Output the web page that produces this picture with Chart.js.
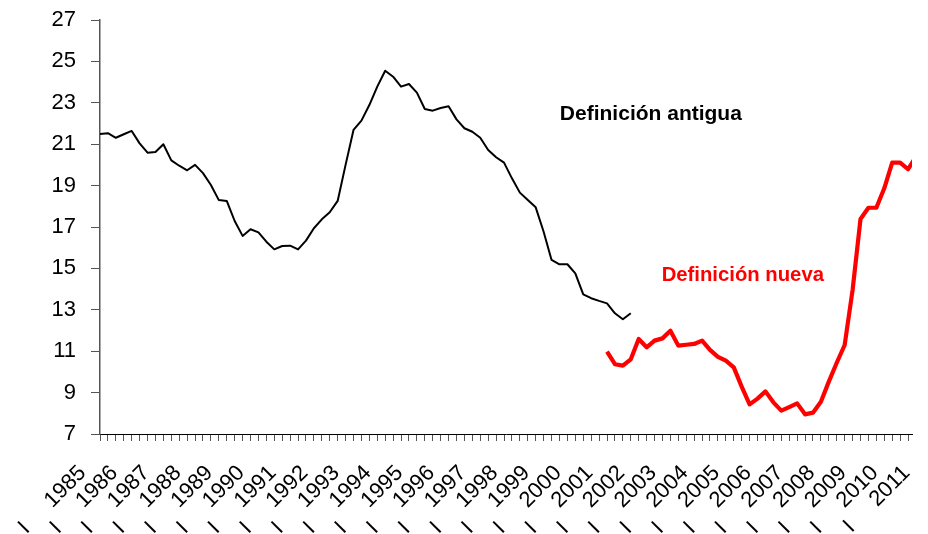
<!DOCTYPE html>
<html><head><meta charset="utf-8">
<script src="https://cdn.jsdelivr.net/npm/chart.js@4.4.1/dist/chart.umd.min.js"></script>
<style>html,body{margin:0;padding:0;background:#fff}canvas{display:block}</style>
</head><body>
<canvas id="c" width="928" height="534"></canvas>
<script>
// ---- data ----
const years = ['1985','1986','1987','1988','1989','1990','1991','1992','1993','1994','1995','1996','1997','1998','1999','2000','2001','2002','2003','2004','2005','2006','2007','2008','2009','2010','2011'];
const quarterMark = 'I';
// Definición antigua: 1985 I .. 2001 IV
const oldDefinition = [21.49,21.53,21.31,21.48,21.64,21.04,20.59,20.62,21.0,20.22,
  19.96,19.74,20.0,19.6,19.03,18.30,18.26,17.29,16.57,16.89,
  16.74,16.29,15.92,16.08,16.1,15.92,16.34,16.94,17.37,17.71,
  18.26,20.0,21.69,22.14,22.89,23.78,24.55,24.26,23.78,23.91,
  23.49,22.70,22.62,22.75,22.83,22.2,21.77,21.6,21.31,20.72,
  20.37,20.11,19.35,18.66,18.30,17.95,16.77,15.41,15.2,15.2,
  14.76,13.75,13.56,13.43,13.31,12.83,12.54,12.83];
// Definición nueva: 2001 I .. 2010 IV
const newDefinitionStart = 64;
const newDefinition = [10.98,10.37,10.30,10.61,11.59,11.19,11.51,11.62,11.99,11.27,
  11.31,11.35,11.51,11.06,10.73,10.54,10.22,9.29,8.43,8.71,
  9.06,8.53,8.13,8.30,8.48,7.95,8.03,8.56,9.53,10.44,
  11.30,13.96,17.39,17.93,17.93,18.87,20.11,20.11,19.79,20.4];
const yTicks = [7,9,11,13,15,17,19,21,23,25,27];
const noteTexts = ['Definición antigua','Definición nueva'];

// ---- build ----
const FONT = "'Liberation Sans', Arial, Helvetica, sans-serif";
const oldPoints = oldDefinition.map((v,i)=>({x:i,y:v}));
const newPoints = newDefinition.map((v,i)=>({x:i+newDefinitionStart,y:v}));
const tickCount = years.length*4 - 3; // quarters up to 2011 I
const xTickValues = Array.from({length:tickCount},(_,i)=>i);
const X_MAX = 102.5;

const notes = [
  {text:noteTexts[0], x:58.05, y:22.46, color:'#000000', size:21},
  {text:noteTexts[1], x:70.9, y:14.67, color:'#ff0000', size:20.3}
];

const notesPlugin = {
  id:'notes',
  afterDatasetsDraw(chart){
    const {ctx, scales:{x,y}} = chart;
    ctx.save();
    notes.forEach(n=>{
      ctx.font = `bold ${n.size}px ${FONT}`;
      ctx.fillStyle = n.color;
      ctx.textAlign = 'left';
      ctx.textBaseline = 'middle';
      ctx.fillText(n.text, x.getPixelForValue(n.x), y.getPixelForValue(n.y));
    });
    ctx.restore();
  }
};

new Chart(document.getElementById('c'), {
  type:'line',
  data:{
    datasets:[
      {label:noteTexts[0], data:oldPoints, borderColor:'#000000', borderWidth:2, pointRadius:0, tension:0, borderJoinStyle:'round', clip:{left:4,top:4,right:0,bottom:4}},
      {label:noteTexts[1], data:newPoints, borderColor:'#ff0000', borderWidth:4.2, pointRadius:0, tension:0, borderJoinStyle:'round', clip:{left:4,top:4,right:0,bottom:4}}
    ]
  },
  options:{
    responsive:false,
    animation:false,
    devicePixelRatio:1,
    layout:{padding:{top:20,right:16,bottom:0,left:0}},
    plugins:{legend:{display:false}, tooltip:{enabled:false}},
    scales:{
      x:{
        type:'linear',
        min:0, max:X_MAX,
        afterBuildTicks(scale){ scale.ticks = xTickValues.map(v=>({value:v})); },
        afterFit(scale){ scale.height = 100; scale.paddingLeft = 0; scale.paddingRight = 0; },
        grid:{display:true, drawOnChartArea:false, drawTicks:true, tickLength:7, tickWidth:1,
          tickColor:(c)=> (c.tick && c.tick.value > X_MAX) ? 'rgba(0,0,0,0)' : '#555555'},
        border:{display:true, color:'#000000', width:1},
        ticks:{
          autoSkip:false, minRotation:45, maxRotation:45, padding:2,
          color:'#000000', font:{family:FONT, size:22},
          callback(value){
            if (value % 4 !== 0) return '';
            const y = years[value/4];
            return y ? quarterMark + '     ' + y + '    ' : '';
          }
        }
      },
      y:{
        type:'linear',
        min:7, max:27,
        afterBuildTicks(scale){ scale.ticks = yTicks.map(v=>({value:v})); },
        afterFit(scale){ scale.width = 100; scale.paddingTop = 0; scale.paddingBottom = 0; },
        grid:{display:true, drawOnChartArea:false, drawTicks:true, tickLength:9, tickColor:'#555555', tickWidth:1},
        border:{display:true, color:'#555555', width:1.5},
        ticks:{padding:15, color:'#000000', font:{family:FONT, size:22}}
      }
    }
  },
  plugins:[notesPlugin]
});
</script>
</body></html>
